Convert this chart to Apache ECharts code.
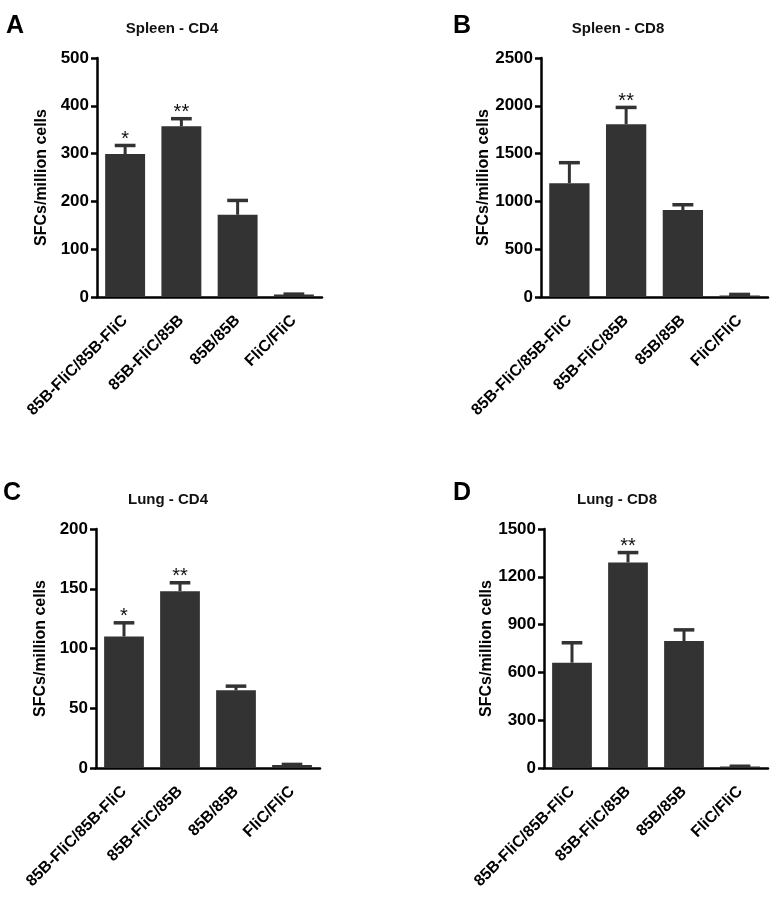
<!DOCTYPE html>
<html>
<head>
<meta charset="utf-8">
<script src="https://cdn.jsdelivr.net/npm/echarts@6/dist/echarts.min.js"></script>
<style>
html,body{margin:0;padding:0;background:#fff}
#main{width:783px;height:915px}
</style>
</head>
<body>
<div id="main"></div>
<script>
var categories = ['85B-FliC/85B-FliC', '85B-FliC/85B', '85B/85B', 'FliC/FliC'];

// mean values and upper error (SEM) per panel
var spleenCD4 = [299, 357, 172, 5];
var spleenCD4Err = [18, 16, 30, 1];
var spleenCD4Sig = ['*', '**', '', ''];

var spleenCD8 = [1190, 1808, 910, 15];
var spleenCD8Err = [215, 175, 55, 12];
var spleenCD8Sig = ['', '**', '', ''];

var lungCD4 = [110, 148, 65, 2.5];
var lungCD4Err = [11.5, 7, 3.5, 0.5];
var lungCD4Sig = ['*', '**', '', ''];

var lungCD8 = [661, 1290, 797, 9];
var lungCD8Err = [125, 62, 70, 2];
var lungCD8Sig = ['', '**', '', ''];

var panelTitles = ['Spleen - CD4', 'Spleen - CD8', 'Lung - CD4', 'Lung - CD8'];
var panelLetters = ['A', 'B', 'C', 'D'];
var yMax = [500, 2500, 200, 1500];
var yStep = [100, 500, 50, 300];

var FONT = '"Liberation Sans", Arial, sans-serif';
var BAR_COLOR = '#333333';

var panels = [
	{ vals: spleenCD4, err: spleenCD4Err, sig: spleenCD4Sig },
	{ vals: spleenCD8, err: spleenCD8Err, sig: spleenCD8Sig },
	{ vals: lungCD4, err: lungCD4Err, sig: lungCD4Sig },
	{ vals: lungCD8, err: lungCD8Err, sig: lungCD8Sig }
];

// layout of the 4 plots
var grids = [
	{ left: 97, top: 58, width: 225, height: 239 },
	{ left: 541, top: 58, width: 227, height: 239 },
	{ left: 96, top: 529, width: 224, height: 239 },
	{ left: 544, top: 529, width: 224, height: 239 }
];
var titlePos = [[172, 21], [618, 21], [168, 492], [617, 492]];
var letterPos = [[6, 14], [453, 14], [3, 481], [453, 481]];

var xAxes = [], yAxes = [], series = [], titles = [];

for (var i = 0; i < 4; i++) {
	xAxes.push({
		type: 'category',
		gridIndex: i,
		data: categories,
		axisLine: { lineStyle: { color: '#000', width: 2.5 } },
		axisTick: { alignWithLabel: true, length: 7, lineStyle: { color: '#000', width: 2.5 } },
		axisLabel: { interval: 0, rotate: 45, margin: 21, color: '#000', fontSize: 16, fontWeight: 'bold', fontFamily: FONT },
		splitLine: { show: false }
	});
	yAxes.push({
		type: 'value',
		gridIndex: i,
		min: 0,
		max: yMax[i],
		interval: yStep[i],
		name: 'SFCs/million cells',
		nameLocation: 'middle',
		nameGap: 47,
		nameTextStyle: { color: '#000', fontSize: 16, fontWeight: 'bold', fontFamily: FONT },
		axisLine: { show: true, lineStyle: { color: '#000', width: 2.5 } },
		axisTick: { show: true, length: 6, lineStyle: { color: '#000', width: 2.5 } },
		axisLabel: {
			margin: 8, color: '#000', fontSize: 17, fontWeight: 'bold', fontFamily: FONT,
			formatter: function (v) { return String(v); }
		},
		splitLine: { show: false }
	});

	series.push({
		type: 'bar',
		xAxisIndex: i,
		yAxisIndex: i,
		barWidth: '71%',
		itemStyle: { color: BAR_COLOR },
		data: panels[i].vals,
		z: 2
	});

	var errData = [];
	for (var j = 0; j < categories.length; j++) {
		errData.push([j, panels[i].vals[j], panels[i].err[j]]);
	}
	series.push({
		type: 'custom',
		xAxisIndex: i,
		yAxisIndex: i,
		z: 3,
		data: errData,
		renderItem: (function (sig) {
			return function (params, api) {
				var x = api.value(0), m = api.value(1), e = api.value(2);
				var base = api.coord([x, m]);
				var top = api.coord([x, m + e]);
				var capW = api.size([1, 0])[0] * 0.71 * 0.52;
				var children = [];
				if (e > 0) {
					children.push({ type: 'line', shape: { x1: top[0], y1: base[1], x2: top[0], y2: top[1] },
						style: { stroke: BAR_COLOR, lineWidth: 3 } });
					children.push({ type: 'line', shape: { x1: top[0] - capW / 2, y1: top[1], x2: top[0] + capW / 2, y2: top[1] },
						style: { stroke: BAR_COLOR, lineWidth: 3.5 } });
				}
				var s = sig[params.dataIndex];
				if (s) {
					children.push({ type: 'text', style: { text: s, x: top[0], y: top[1] + 4, align: 'center', verticalAlign: 'bottom',
						fill: '#111', font: '20px ' + FONT } });
				}
				return { type: 'group', children: children };
			};
		})(panels[i].sig)
	});

	titles.push({
		text: panelTitles[i],
		left: titlePos[i][0],
		top: titlePos[i][1],
		textAlign: 'center',
		padding: 0,
		textStyle: { color: '#111', fontSize: 15, fontWeight: 'bold', fontFamily: FONT }
	});
	titles.push({
		text: panelLetters[i],
		left: letterPos[i][0],
		top: letterPos[i][1],
		padding: 0,
		textStyle: { color: '#000', fontSize: 25, fontWeight: 'bold', fontFamily: FONT }
	});
}

var chart = echarts.init(document.getElementById('main'), null, { renderer: 'canvas' });
chart.setOption({
	backgroundColor: '#fff',
	animation: false,
	title: titles,
	grid: grids,
	xAxis: xAxes,
	yAxis: yAxes,
	series: series
});
</script>
</body>
</html>
